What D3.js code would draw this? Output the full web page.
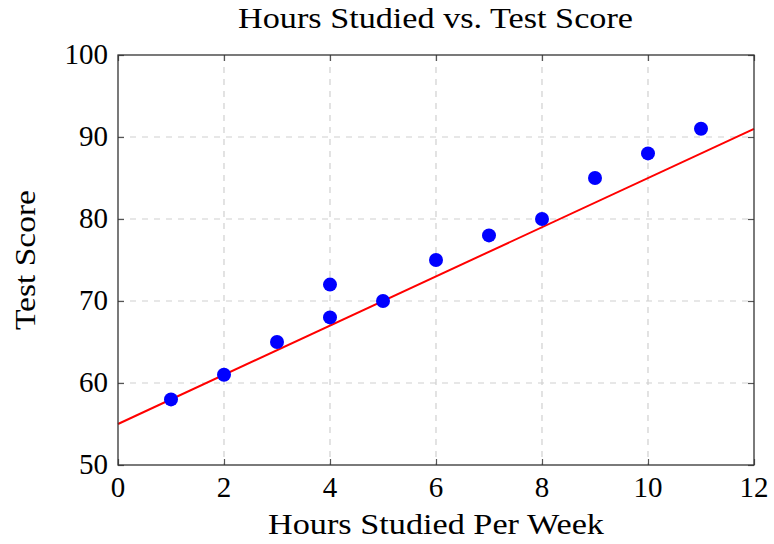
<!DOCTYPE html>
<html><head><meta charset="utf-8">
<script src="https://cdn.jsdelivr.net/npm/d3@7"></script>
<style>body{margin:0;background:#fff}text{font-family:"Liberation Serif","DejaVu Serif",serif;fill:#000}</style>
</head><body><svg id="c" width="774" height="544"></svg>
<script>
const hours = [1, 2, 3, 4, 4, 5, 6, 7, 8, 9, 10, 11];
const scores = [58, 61, 65, 68, 72, 70, 75, 78, 80, 85, 88, 91];
const fitX = [0, 12];
const fitY = [55, 91];
const xTicks = [0, 2, 4, 6, 8, 10, 12];
const yTicks = [50, 60, 70, 80, 90, 100];

const svg = d3.select("#c");
const L = 118, R = 754, T = 55, B = 465;
const x = d3.scaleLinear().domain([0, 12]).range([L, R]);
const y = d3.scaleLinear().domain([50, 100]).range([B, T]);
const FS = 29;

// grid
const g = svg.append("g");
g.selectAll("line.gx").data(xTicks.slice(1, -1)).enter().append("line")
  .attr("x1", d => x(d)).attr("x2", d => x(d)).attr("y1", T).attr("y2", B)
  .attr("stroke", "#d0d0d0").attr("stroke-width", 1.2).attr("stroke-dasharray", "6,6");
g.selectAll("line.gy").data(yTicks.slice(1, -1)).enter().append("line")
  .attr("y1", d => y(d)).attr("y2", d => y(d)).attr("x1", L).attr("x2", R)
  .attr("stroke", "#d0d0d0").attr("stroke-width", 1.2).attr("stroke-dasharray", "6,6");

// ticks (inner, all four sides)
const tk = 6;
svg.append("g").call(d3.axisBottom(x).tickValues(xTicks).tickSize(-tk).tickFormat(""))
  .attr("transform", `translate(0,${B})`);
svg.append("g").call(d3.axisTop(x).tickValues(xTicks).tickSize(-tk).tickFormat(""))
  .attr("transform", `translate(0,${T})`);
svg.append("g").call(d3.axisLeft(y).tickValues(yTicks).tickSize(-tk).tickFormat(""))
  .attr("transform", `translate(${L},0)`);
svg.append("g").call(d3.axisRight(y).tickValues(yTicks).tickSize(-tk).tickFormat(""))
  .attr("transform", `translate(${R},0)`);
svg.selectAll(".domain").remove();
svg.selectAll(".tick line").attr("stroke", "#555").attr("stroke-width", 1.2);

// tick labels
svg.append("g").selectAll("text").data(xTicks).enter().append("text")
  .attr("x", d => x(d)).attr("y", B + 32).attr("text-anchor", "middle")
  .attr("font-size", FS).text(d => d);
svg.append("g").selectAll("text").data(yTicks).enter().append("text")
  .attr("x", L - 10).attr("y", d => y(d) + 9).attr("text-anchor", "end")
  .attr("font-size", FS).text(d => d);

// fit line
svg.append("line")
  .attr("x1", x(fitX[0])).attr("y1", y(fitY[0])).attr("x2", x(fitX[1])).attr("y2", y(fitY[1]))
  .attr("stroke", "#ff0000").attr("stroke-width", 2);

// points
svg.append("g").selectAll("circle").data(hours.map((h, i) => [h, scores[i]])).enter().append("circle")
  .attr("cx", d => x(d[0])).attr("cy", d => y(d[1])).attr("r", 7).attr("fill", "#0000ff");

// frame
svg.append("rect").attr("x", L).attr("y", T).attr("width", R - L).attr("height", B - T)
  .attr("fill", "none").attr("stroke", "#333").attr("stroke-width", 1.3);

// titles
svg.append("text").attr("x", 238).attr("y", 28)
  .attr("textLength", 395).attr("lengthAdjust", "spacingAndGlyphs")
  .attr("font-size", FS).text("Hours Studied vs. Test Score");
svg.append("text").attr("x", 268).attr("y", 534)
  .attr("textLength", 336).attr("lengthAdjust", "spacingAndGlyphs")
  .attr("font-size", FS).text("Hours Studied Per Week");
svg.append("text").attr("transform", `translate(35,330) rotate(-90)`)
  .attr("textLength", 140).attr("lengthAdjust", "spacingAndGlyphs")
  .attr("font-size", FS).text("Test Score");
</script></body></html>
